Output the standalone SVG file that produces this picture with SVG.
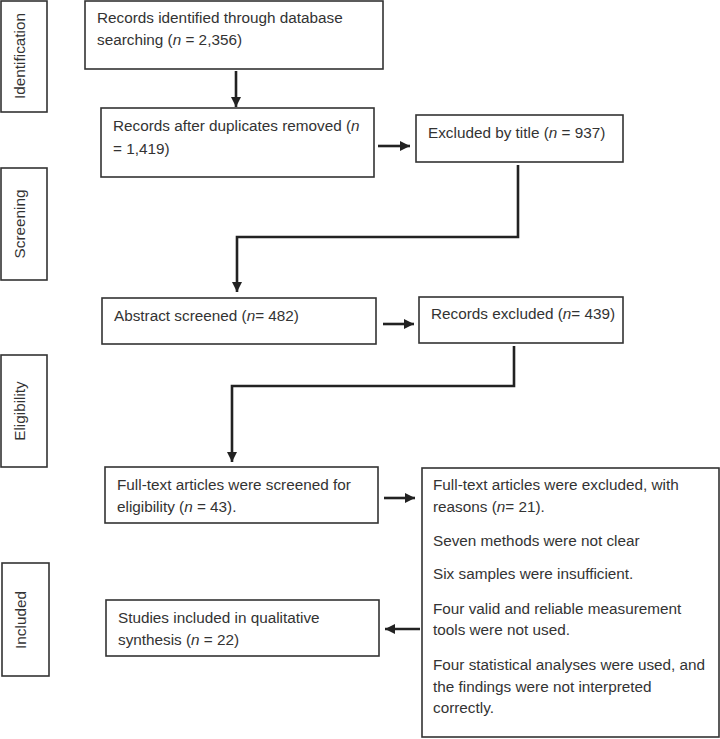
<svg xmlns="http://www.w3.org/2000/svg" width="720" height="739" viewBox="0 0 720 739">
<defs>
<marker id="ah" viewBox="0 0 10 10" refX="10" refY="5" markerWidth="4" markerHeight="4" markerUnits="strokeWidth" orient="auto">
<path d="M0,0 L10,5 L0,10 z" fill="#222"/>
</marker>
<style>
.box{fill:#fff;stroke:#333;stroke-width:1.6}
.t{font-family:"Liberation Sans",Arial,sans-serif;font-size:15.3px;fill:#333}
.s{font-family:"Liberation Sans",Arial,sans-serif;font-size:15.3px;fill:#333}
.c{fill:none;stroke:#222;stroke-width:2.6}
.i{font-style:italic}
</style>
</defs>
<rect width="720" height="739" fill="#fff"/>
<g id="stage-identification">
<rect class="box" x="1" y="1" width="46" height="111"/>
<text class="s" transform="translate(25,56) rotate(-90)" text-anchor="middle">Identification</text>
</g>
<g id="stage-screening">
<rect class="box" x="1" y="168" width="46" height="112"/>
<text class="s" transform="translate(25,224) rotate(-90)" text-anchor="middle">Screening</text>
</g>
<g id="stage-eligibility">
<rect class="box" x="1" y="355" width="46" height="112"/>
<text class="s" transform="translate(25,411) rotate(-90)" text-anchor="middle">Eligibility</text>
</g>
<g id="stage-included">
<rect class="box" x="2" y="563" width="47" height="113"/>
<text class="s" transform="translate(26,620) rotate(-90)" text-anchor="middle">Included</text>
</g>
<g id="n-identified">
<rect class="box" x="85" y="1" width="298" height="68"/>
<text class="t" x="97" y="23">Records identified through database</text>
<text class="t" x="97" y="45">searching (<tspan class="i">n</tspan> = 2,356)</text>
</g>
<g id="n-dedup">
<rect class="box" x="101" y="108" width="273" height="69"/>
<text class="t" x="113" y="131">Records after duplicates removed (<tspan class="i">n</tspan></text>
<text class="t" x="113" y="154">= 1,419)</text>
</g>
<g id="n-excl-title">
<rect class="box" x="416" y="115" width="207" height="47"/>
<text class="t" x="428" y="138">Excluded by title (<tspan class="i">n</tspan> = 937)</text>
</g>
<g id="n-abstract">
<rect class="box" x="102" y="298" width="274" height="46"/>
<text class="t" x="114" y="321">Abstract screened (<tspan class="i">n</tspan>= 482)</text>
</g>
<g id="n-rec-excl">
<rect class="box" x="419" y="297" width="204" height="46"/>
<text class="t" x="431" y="319">Records excluded (<tspan class="i">n</tspan>= 439)</text>
</g>
<g id="n-fulltext">
<rect class="box" x="105" y="467" width="273" height="56"/>
<text class="t" x="117" y="490">Full-text articles were screened for</text>
<text class="t" x="117" y="512">eligibility (<tspan class="i">n</tspan> = 43).</text>
</g>
<g id="n-ft-excl">
<rect class="box" x="422" y="468" width="297" height="269"/>
<text class="t" x="433" y="490">Full-text articles were excluded, with</text>
<text class="t" x="433" y="512">reasons (<tspan class="i">n</tspan>= 21).</text>
<text class="t" x="433" y="546">Seven methods were not clear</text>
<text class="t" x="433" y="579">Six samples were insufficient.</text>
<text class="t" x="433" y="614">Four valid and reliable measurement</text>
<text class="t" x="433" y="635">tools were not used.</text>
<text class="t" x="433" y="670">Four statistical analyses were used, and</text>
<text class="t" x="433" y="692">the findings were not interpreted</text>
<text class="t" x="433" y="713">correctly.</text>
</g>
<g id="n-included">
<rect class="box" x="106" y="600" width="273" height="56"/>
<text class="t" x="118" y="623">Studies included in qualitative</text>
<text class="t" x="118" y="645">synthesis (<tspan class="i">n</tspan> = 22)</text>
</g>
<g id="connectors">
<path class="c" d="M236,71 V107" marker-end="url(#ah)"/>
<path class="c" d="M378,146 H410" marker-end="url(#ah)"/>
<path class="c" d="M518,165 V237 H237 V292" marker-end="url(#ah)"/>
<path class="c" d="M383,324 H414" marker-end="url(#ah)"/>
<path class="c" d="M514,346 V386 H232 V462" marker-end="url(#ah)"/>
<path class="c" d="M384,498 H415" marker-end="url(#ah)"/>
<path class="c" d="M420,629 H385" marker-end="url(#ah)"/>
</g>
</svg>
